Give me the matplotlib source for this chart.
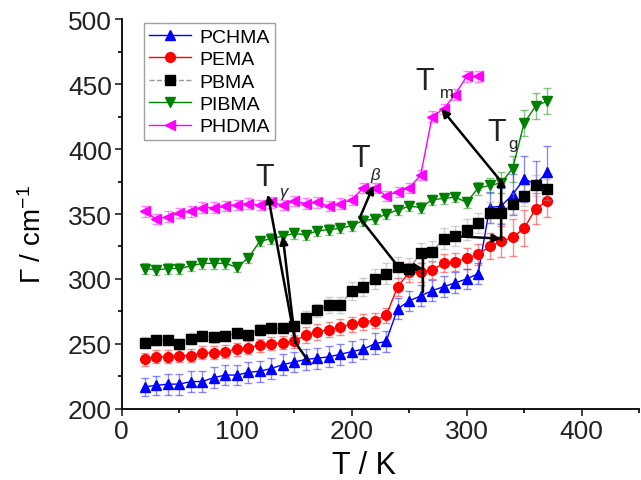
import numpy as np
import matplotlib
matplotlib.use("Agg")
from matplotlib import pyplot as plt

plt.rcParams['font.family'] = ['Liberation Sans', 'DejaVu Sans']
plt.rcParams['mathtext.fontset'] = 'custom'
plt.rcParams['mathtext.rm'] = 'Liberation Sans'
plt.rcParams['mathtext.it'] = 'Liberation Sans:italic'

# temperatures (K)
T_all = list(range(20, 380, 10))      # 20 .. 370
T_phdma = list(range(20, 320, 10))    # 20 .. 310

pchma = [217, 218, 219, 219, 221, 221, 224, 226, 226, 228, 229, 231, 234, 236, 238, 239, 240, 242,
         244, 246, 250, 252, 277, 283, 287, 291, 294, 297, 300, 304, 355, 356, 365, 377, 373, 382]
pchma_err = [7, 7, 8, 8, 8, 8, 8, 8, 8, 8, 8, 8, 8, 8, 8, 8, 8, 8,
             8, 8, 8, 8, 8, 8, 8, 8, 8, 8, 8, 8, 12, 14, 16, 18, 18, 20]

pema = [238, 240, 240, 241, 241, 243, 243, 244, 246, 247, 249, 250, 251, 252, 257, 259, 261, 263,
        265, 267, 268, 272, 294, 305, 305, 307, 312, 313, 316, 319, 325, 329, 332, 339, 354, 360]
pema_err = [5, 5, 5, 5, 5, 5, 5, 5, 5, 5, 5, 5, 5, 5, 6, 6, 6, 6,
            6, 6, 6, 6, 7, 7, 7, 7, 7, 7, 8, 8, 10, 12, 14, 14, 12, 12]

pbma = [251, 253, 253, 250, 254, 256, 255, 256, 258, 257, 261, 262, 262, 264, 270, 276, 280, 280,
        291, 294, 300, 304, 309, 308, 320, 321, 331, 333, 338, 343, 351, 351, 358, 364, 372, 369]
pbma_err = [4, 4, 4, 4, 4, 4, 4, 4, 4, 4, 4, 4, 4, 4, 5, 5, 6, 6,
            7, 7, 8, 8, 8, 8, 8, 8, 8, 8, 8, 8, 8, 8, 8, 8, 8, 8]

pibma = [308, 307, 308, 308, 310, 312, 312, 312, 309, 316, 329, 331, 333, 335, 334, 337, 338, 339,
         341, 345, 346, 350, 353, 356, 355, 361, 362, 363, 359, 370, 372, 374, 385, 420, 433, 437]
pibma_err = [4, 4, 4, 4, 4, 4, 4, 4, 4, 4, 4, 4, 4, 4, 4, 4, 4, 4,
             4, 4, 4, 4, 4, 4, 4, 4, 4, 4, 4, 5, 6, 8, 10, 10, 10, 10]

phdma = [352, 346, 348, 351, 352, 355, 355, 356, 357, 358, 357, 359, 357, 360, 358, 359, 356, 358,
         361, 370, 370, 364, 367, 370, 380, 425, 431, 442, 456, 456]
phdma_err = [4] * 30

fig = plt.figure(figsize=(6.41, 4.81), dpi=100)
ax = fig.add_axes([0.19, 0.148, 0.807, 0.81])

series = [
    ("PCHMA", T_all, pchma, pchma_err, 'blue', '^', '-'),
    ("PEMA", T_all, pema, pema_err, 'red', 'o', '-'),
    ("PBMA", T_all, pbma, pbma_err, '#999999', 's', '--'),
    ("PIBMA", T_all, pibma, pibma_err, 'green', 'v', '-'),
    ("PHDMA", T_phdma, phdma, phdma_err, 'magenta', '<', '-'),
]
for name, x, y, e, c, m, ls in series:
    mc = 'black' if name == "PBMA" else c
    ax.errorbar(x, y, yerr=e, fmt='none', ecolor=c, alpha=0.45, elinewidth=1, capsize=3, capthick=1)
    ax.plot(x, y, color=c, linestyle=ls, linewidth=1, marker=m, markersize=7,
            markerfacecolor=mc, markeredgecolor=mc, label=name)

# transition arrows
def arrow(x0, y0, x1, y1, head=True):
    ax.annotate('', xy=(x1, y1), xytext=(x0, y0),
                arrowprops=dict(arrowstyle='-|>' if head else '-', color='black', lw=1.8,
                                mutation_scale=12, shrinkA=0, shrinkB=0))

arrow(162, 237, 151, 251, head=False)
arrow(151, 251, 140, 333)
arrow(151, 251, 127, 365)
arrow(207, 347, 219, 372)
arrow(207, 347, 240, 310, head=False)
arrow(240, 310, 262, 308)
arrow(262, 290, 262, 325)
arrow(330, 375, 278, 431)
arrow(330, 330, 330, 378)
arrow(288, 333, 330, 331)

# transition labels: big T with small subscript
labels = [(116, 372, 137, 364, r'$\gamma$'), (200, 387, 216, 377, r'$\beta$'),
          (255, 446, 277, 440, 'm'), (318, 407, 336, 401, 'g')]
for tx, ty, sx, sy, sub in labels:
    ax.text(tx, ty, 'T', fontsize=22, color='#222222', va='baseline')
    ax.text(sx, sy, sub, fontsize=12, color='#222222', va='baseline')

ax.set_xlim(0, 450)
ax.set_ylim(200, 500)
ax.set_xticks([0, 100, 200, 300, 400])
ax.set_xticks([50, 150, 250, 350, 450], minor=True)
ax.set_yticks(range(200, 501, 50))
ax.set_yticks(range(225, 500, 50), minor=True)
ax.tick_params(labelsize=19, direction='out', length=5, width=1.2, colors='#222222', pad=2)
ax.tick_params(which='minor', direction='out', length=3, width=1.2)
ax.spines['top'].set_visible(False)
ax.spines['right'].set_visible(False)
ax.spines['left'].set_linewidth(1.3)
ax.spines['bottom'].set_linewidth(1.3)
ax.set_xlabel('T / K', fontsize=22)
ax.set_ylabel(r'$\Gamma$ / cm$^{-1}$', fontsize=20)
ax.xaxis.set_label_coords(0.468, -0.145)
ax.yaxis.set_label_coords(-0.172, 0.45)
ax.xaxis.label.set_verticalalignment('center')
ax.yaxis.label.set_verticalalignment('center')

leg = ax.legend(loc='upper left', bbox_to_anchor=(0.035, 1.0), borderaxespad=0.2,
                fontsize=14, frameon=True, fancybox=False, edgecolor='#888888',
                handlelength=2.2, handletextpad=0.4, borderpad=0.25, labelspacing=0.25)

fig.savefig('out.png', dpi=100)
